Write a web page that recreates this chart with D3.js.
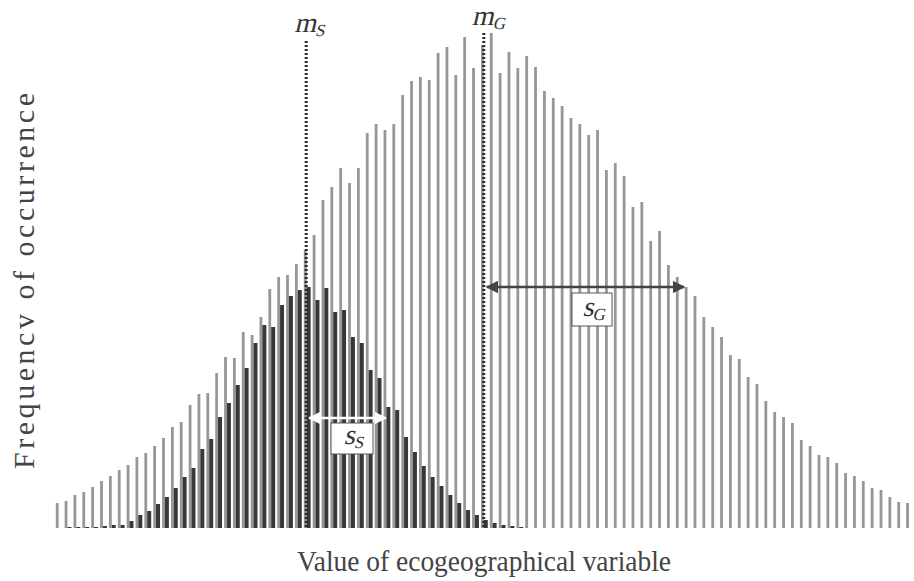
<!DOCTYPE html>
<html>
<head>
<meta charset="utf-8">
<script src="https://cdn.jsdelivr.net/npm/d3@7"></script>
<style>
  body { margin: 0; background: #fff; }
</style>
</head>
<body>
<svg width="914" height="581"></svg>
<script>
// Global distribution (light bars), one value per class of the variable
const globalFreq = [
  25, 27, 33, 36, 41, 47, 52, 58, 63, 71,
  75, 82, 90, 101, 106, 123, 134, 135, 155, 171,
  170, 196, 193, 211, 239, 251, 253, 264, 278, 293,
  328, 341, 360, 345, 360, 395, 404, 398, 404, 433,
  447, 451, 448, 475, 481, 453, 491, 460, 483, 495,
  455, 476, 460, 472, 461, 437, 430, 422, 410, 404,
  393, 398, 358, 365, 352, 321, 326, 287, 297, 263,
  251, 241, 232, 211, 201, 191, 173, 169, 151, 144,
  127, 116, 111, 105, 88, 82, 73, 71, 65, 55,
  52, 47, 40, 38, 31, 26, 25
];

// Species distribution (dark bars)
const speciesFreq = [
  0, 1, 1, 1, 1, 2, 3, 3, 7, 13,
  17, 24, 31, 40, 51, 60, 79, 89, 111, 125,
  143, 160, 185, 203, 201, 223, 232, 238, 241, 228,
  240, 216, 218, 191, 185, 158, 150, 121, 118, 91,
  76, 62, 51, 42, 33, 25, 18, 13, 8, 5,
  3, 2, 1, 0, 0, 0, 0, 0, 0, 0,
  0, 0, 0, 0, 0, 0, 0, 0, 0, 0,
  0, 0, 0, 0, 0, 0, 0, 0, 0, 0,
  0, 0, 0, 0, 0, 0, 0, 0, 0, 0,
  0, 0, 0, 0, 0, 0, 0
];

// Means and standard deviations, in class units
const meanS = 28.1, sdS = 9.0;
const meanG = 48.15, sdG = 22.6;

const xLabel = "Value of ecogeographical variable";
const yLabel = "Frequencv of occurrence";

const GREY = "#979797";
const DARK = "#383838";
const SERIF = "'Liberation Serif', 'DejaVu Serif', serif";

const svg = d3.select("svg");
const n = globalFreq.length;

// bins
const x = d3.scaleBand()
  .domain(d3.range(n))
  .range([55.8, 55.8 + n * 8.858]);

// continuous position of the class centres (for means / sd arrows)
const xc = d3.scaleLinear()
  .domain([0, n - 1])
  .range([x(0) + 1.5, x(n - 1) + 1.5]);

const y = d3.scaleLinear()
  .domain([0, 500])
  .range([528, 28]);

// grey bars
svg.append("g")
  .selectAll("rect")
  .data(globalFreq)
  .join("rect")
  .attr("x", (d, i) => x(i))
  .attr("width", 2.8)
  .attr("y", d => y(d))
  .attr("height", d => y(0) - y(d))
  .attr("fill", GREY);

// dark bars next to them
svg.append("g")
  .selectAll("rect")
  .data(speciesFreq)
  .join("rect")
  .attr("x", (d, i) => x(i) + 2.8)
  .attr("width", 4)
  .attr("y", d => y(d))
  .attr("height", d => y(0) - y(d))
  .attr("fill", DARK);

// math-style label: upright serif slanted by hand
function mathLabel(g, main, sub, anchor) {
  const t = g.append("text")
    .attr("transform", "skewX(-13)")
    .attr("text-anchor", anchor)
    .attr("font-family", SERIF)
    .attr("font-size", 28)
    .attr("fill", "#333");
  t.append("tspan").text(main);
  t.append("tspan").attr("font-size", 17).attr("dy", 4).text(sub);
}

// dotted mean lines
const means = [
  { v: meanS, top: 487, label: "m", sub: "S", ly: 32 },
  { v: meanG, top: 495, label: "m", sub: "G", ly: 25 }
];

svg.append("g")
  .selectAll("line")
  .data(means)
  .join("line")
  .attr("x1", d => xc(d.v))
  .attr("x2", d => xc(d.v))
  .attr("y1", d => y(d.top))
  .attr("y2", y(0))
  .attr("stroke", "#2a2a2a")
  .attr("stroke-width", 3)
  .attr("stroke-dasharray", "2,2");

means.forEach(m => {
  const g = svg.append("g")
    .attr("transform", `translate(${xc(m.v) - 12},${m.ly})`);
  mathLabel(g, m.label, m.sub, "start");
});

// arrow heads
const defs = svg.append("defs");
[["headDark", "#444"], ["headWhite", "#fff"]].forEach(([id, c]) => {
  defs.append("marker")
    .attr("id", id)
    .attr("viewBox", "0 0 10 10")
    .attr("refX", 9)
    .attr("refY", 5)
    .attr("markerWidth", 5)
    .attr("markerHeight", 5)
    .attr("orient", "auto-start-reverse")
    .append("path")
    .attr("d", "M0,0 L10,5 L0,10 z")
    .attr("fill", c);
});

const spreads = [
  { from: meanG, sd: sdG, at: 241, color: "#444", marker: "headDark", sub: "G", box: [572, 293, 40, 33] },
  { from: meanS, sd: sdS, at: 110, color: "#fff", marker: "headWhite", sub: "S", box: [331, 423, 42, 31] }
];

spreads.forEach(s => {
  svg.append("line")
    .attr("x1", xc(s.from) + 3)
    .attr("x2", xc(s.from + s.sd))
    .attr("y1", y(s.at))
    .attr("y2", y(s.at))
    .attr("stroke", s.color)
    .attr("stroke-width", 2.5)
    .attr("marker-start", `url(#${s.marker})`)
    .attr("marker-end", `url(#${s.marker})`);

  const [bx, by, bw, bh] = s.box;
  svg.append("rect")
    .attr("x", bx).attr("y", by)
    .attr("width", bw).attr("height", bh)
    .attr("fill", "#fff")
    .attr("stroke", "#555")
    .attr("stroke-width", 1);

  const g = svg.append("g")
    .attr("transform", `translate(${bx + bw / 2 + 2},${by + bh - 10})`);
  mathLabel(g, "s", s.sub, "middle");
});

// axis titles
svg.append("text")
  .attr("x", 484)
  .attr("y", 571)
  .attr("text-anchor", "middle")
  .attr("font-family", SERIF)
  .attr("font-size", 30)
  .attr("textLength", 374)
  .attr("lengthAdjust", "spacingAndGlyphs")
  .attr("fill", "#444")
  .text(xLabel);

svg.append("text")
  .attr("transform", "translate(34,281) rotate(-90)")
  .attr("text-anchor", "middle")
  .attr("font-family", SERIF)
  .attr("font-size", 30)
  .attr("textLength", 376)
  .attr("lengthAdjust", "spacing")
  .attr("fill", "#444")
  .text(yLabel);
</script>
</body>
</html>
